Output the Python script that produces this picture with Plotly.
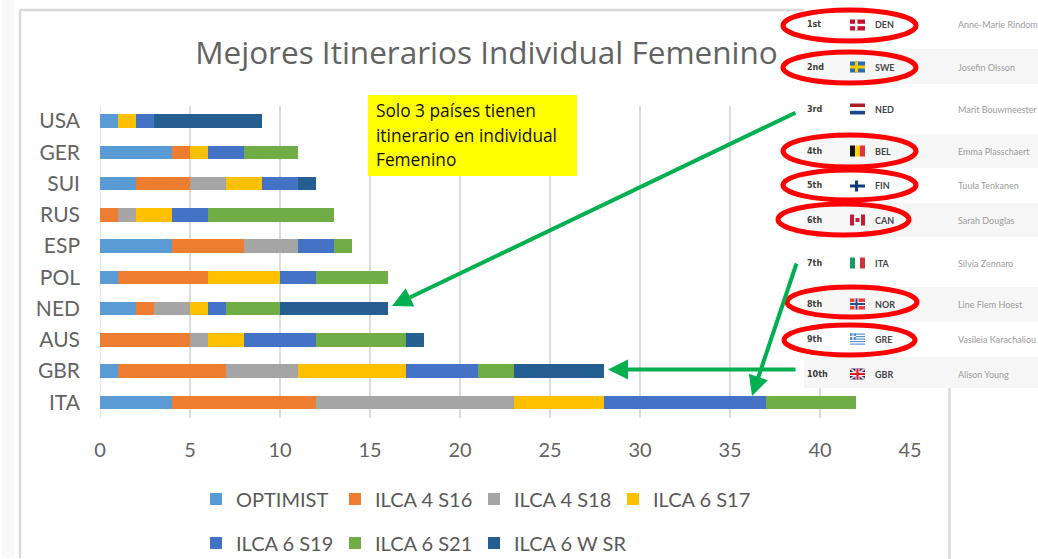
import plotly.graph_objects as go

# ---- data ----
countries = ["USA", "GER", "SUI", "RUS", "ESP", "POL", "NED", "AUS", "GBR", "ITA"]
optimist  = [1, 4, 2, 0, 4, 1, 2, 0, 1, 4]
ilca4_s16 = [0, 1, 3, 1, 4, 5, 1, 5, 6, 8]
ilca4_s18 = [0, 0, 2, 1, 3, 0, 2, 1, 4, 11]
ilca6_s17 = [1, 1, 2, 2, 0, 4, 1, 2, 6, 5]
ilca6_s19 = [1, 2, 2, 2, 2, 2, 1, 4, 4, 9]
ilca6_s21 = [0, 3, 0, 7, 1, 4, 3, 5, 2, 5]
ilca6_wsr = [6, 0, 1, 0, 0, 0, 6, 1, 5, 0]
x_ticks = [0, 5, 10, 15, 20, 25, 30, 35, 40, 45]

ranks = ["1st", "2nd", "3rd", "4th", "5th", "6th", "7th", "8th", "9th", "10th"]
codes = ["DEN", "SWE", "NED", "BEL", "FIN", "CAN", "ITA", "NOR", "GRE", "GBR"]
names = ["Anne-Marie Rindom", "Josefin Olsson", "Marit Bouwmeester", "Emma Plasschaert",
         "Tuula Tenkanen", "Sarah Douglas", "Silvia Zennaro", "Line Flem Hoest",
         "Vasileia Karachaliou", "Alison Young"]

W, H = 1038, 559
def px(x): return x / W
def py(y): return 1 - y / H

fig = go.Figure()
series = [
    ("OPTIMIST", optimist, "#5b9bd5", "legend"),
    ("ILCA 4 S16", ilca4_s16, "#ed7d31", "legend"),
    ("ILCA 4 S18", ilca4_s18, "#a5a5a5", "legend"),
    ("ILCA 6 S17", ilca6_s17, "#ffc000", "legend"),
    ("ILCA 6 S19", ilca6_s19, "#4472c4", "legend2"),
    ("ILCA 6 S21", ilca6_s21, "#70ad47", "legend2"),
    ("ILCA 6 W SR", ilca6_wsr, "#255e91", "legend3"),
]
for name, vals, col, leg in series:
    fig.add_trace(go.Bar(y=countries, x=vals, name=name, orientation="h",
                         marker=dict(color=col, line=dict(width=0)), legend=leg))

shapes = []
def rect(x0, y0, x1, y1, color):
    shapes.append(dict(type="rect", xref="paper", yref="paper", x0=px(x0), x1=px(x1),
                       y0=py(y0), y1=py(y1), fillcolor=color, line=dict(width=0), layer="above"))
def line(x0, y0, x1, y1, color, w):
    shapes.append(dict(type="line", xref="paper", yref="paper", x0=px(x0), x1=px(x1),
                       y0=py(y0), y1=py(y1), line=dict(color=color, width=w), layer="above"))
def ellipse(x0, y0, x1, y1):
    shapes.append(dict(type="circle", xref="paper", yref="paper", x0=px(x0), x1=px(x1),
                       y0=py(y0), y1=py(y1), fillcolor="rgba(0,0,0,0)",
                       line=dict(color="#ff0000", width=5), layer="above"))

# frame of the pasted screenshot
rect(2, 0, 14, 558, "#f9f9f9")
line(20, 10, 804, 10, "#d9d9d9", 2.5)
line(20, 10, 20, 558, "#d9d9d9", 2.5)
line(949.5, 388, 949.5, 559, "#d9d9d9", 2.5)

# pasted results table
rows_y = [25, 67, 109, 151, 186, 220, 263, 304, 339, 374]
rect(804, 0, W, 388, "#ffffff")
for a, b in [(49, 84), (134, 168), (203, 237), (287, 322), (357, 388)]:
    rect(804, a, W, b, "#f6f6f6")

def flag(code, yc):
    x0, x1, y0, y1 = 850, 865, yc - 5.5, yc + 5.5
    xm, ym = (x0 + x1) / 2, yc
    if code == "DEN":
        rect(x0, y0, x1, y1, "#c8102e"); rect(x0 + 5, y0, x0 + 7.5, y1, "#fff"); rect(x0, ym - 1.2, x1, ym + 1.2, "#fff")
    elif code == "SWE":
        rect(x0, y0, x1, y1, "#2a6ebb"); rect(x0 + 5, y0, x0 + 8, y1, "#fecc00"); rect(x0, ym - 1.5, x1, ym + 1.5, "#fecc00")
    elif code == "NED":
        rect(x0, y0, x1, y0 + 3.7, "#ae1c28"); rect(x0, y0 + 3.7, x1, y0 + 7.3, "#fff"); rect(x0, y0 + 7.3, x1, y1, "#21468b")
    elif code == "BEL":
        rect(x0, y0, x0 + 5, y1, "#111"); rect(x0 + 5, y0, x0 + 10, y1, "#fcd116"); rect(x0 + 10, y0, x1, y1, "#e8303f")
    elif code == "FIN":
        rect(x0, y0, x1, y1, "#fff"); rect(x0 + 5, y0, x0 + 8, y1, "#103a7c"); rect(x0, ym - 1.5, x1, ym + 1.5, "#103a7c")
    elif code == "CAN":
        rect(x0, y0, x0 + 4, y1, "#c8183c"); rect(x0 + 11, y0, x1, y1, "#c8183c"); rect(xm - 2, ym - 2, xm + 2, ym + 2, "#c8183c")
    elif code == "ITA":
        rect(x0, y0, x0 + 5, y1, "#169b62"); rect(x0 + 10, y0, x1, y1, "#d0343f")
    elif code == "NOR":
        rect(x0, y0, x1, y1, "#ef3b3f"); rect(x0 + 4.5, y0, x0 + 8.5, y1, "#fff"); rect(x0, ym - 2, x1, ym + 2, "#fff")
        rect(x0 + 5.5, y0, x0 + 7.5, y1, "#2b4a8b"); rect(x0, ym - 1, x1, ym + 1, "#2b4a8b")
    elif code == "GRE":
        rect(x0, y0, x1, y1, "#fff")
        for k in range(0, 5):
            rect(x0, y0 + k * 2.5, x1, y0 + k * 2.5 + 1.2, "#5b94d6")
        rect(x0, y0, x0 + 6, y0 + 6, "#4d8bd2"); rect(x0 + 2.4, y0, x0 + 3.6, y0 + 6, "#fff"); rect(x0, y0 + 2.4, x0 + 6, y0 + 3.6, "#fff")
    elif code == "GBR":
        rect(x0, y0, x1, y1, "#1f2f6e")
        line(x0, y0, x1, y1, "#f3c6c8", 2); line(x0, y1, x1, y0, "#f3c6c8", 2)
        rect(xm - 2, y0, xm + 2, y1, "#fff"); rect(x0, ym - 2, x1, ym + 2, "#fff")
        rect(xm - 1.1, y0, xm + 1.1, y1, "#d5202f"); rect(x0, ym - 1.1, x1, ym + 1.1, "#d5202f")

for c, y in zip(codes, rows_y):
    flag(c, y)

# red ellipses
for e in [(783, 10, 916, 41), (783, 52, 916, 83), (783, 135, 916, 167), (783, 170, 916, 200),
          (778, 204, 909, 235), (787, 287, 917, 317), (784, 325, 915, 355)]:
    ellipse(*e)

# note box
rect(368, 95, 577, 176, "#ffff00")

annotations = []
def text(x, y, s, size, color, family, xanchor="left", bold=False):
    annotations.append(dict(xref="paper", yref="paper", x=px(x), y=py(y), text=f"<b>{s}</b>" if bold else s,
                            showarrow=False, xanchor=xanchor, yanchor="middle", align="left",
                            font=dict(size=size, color=color, family=family)))
for r, c, n, y in zip(ranks, codes, names, rows_y):
    text(805, y, r, 8, "#3c3c3c", "DejaVu Sans", bold=True)
    text(873, y, c, 9, "#444444", "Lato", bold=True)
    text(955.5, y, n, 9, "#9c9c9c", "Lato")

for s, y in [("Solo 3 países tienen", 111), ("itinerario en individual", 135), ("Femenino", 159)]:
    text(374, y, s, 17.3, "#111111", "Open Sans")

GREEN = "#00b050"
def arrow(x0, y0, x1, y1):
    annotations.append(dict(xref="paper", yref="paper", x=px(x1), y=py(y1), axref="pixel", ayref="pixel",
                            ax=x0 - x1, ay=y0 - y1, text="", showarrow=True, arrowhead=2, arrowsize=1.0,
                            arrowwidth=4, arrowcolor=GREEN, standoff=0, startstandoff=0))
arrow(797, 112, 392, 306)
arrow(797, 369.5, 608, 369.5)
arrow(797, 262, 752, 396)

legend_common = dict(orientation="h", xanchor="left", yanchor="middle", bgcolor="rgba(0,0,0,0)",
                     borderwidth=0, traceorder="normal",
                     font=dict(size=20, color="#595959", family="Lato"), itemclick=False, itemdoubleclick=False)

fig.update_layout(
    width=W, height=H, margin=dict(l=0, r=0, t=0, b=0, autoexpand=False),
    paper_bgcolor="#ffffff", plot_bgcolor="#ffffff",
    barmode="stack", bargap=0.57, showlegend=True,
    title=dict(text="Mejores Itinerarios Individual Femenino", x=px(486.5), xref="paper", xanchor="center",
               y=py(53), yref="paper", yanchor="middle",
               font=dict(size=31.5, color="#636363", family="Open Sans")),
    xaxis=dict(domain=[px(100), px(910)], range=[0, 45], tickvals=x_ticks, showgrid=True,
               gridcolor="#dcdcdc", gridwidth=1.6, zeroline=True, zerolinecolor="#e4e4e4", zerolinewidth=1,
               showline=False, ticks="", ticklabelstandoff=18,
               tickfont=dict(size=20, color="#636363", family="Lato")),
    yaxis=dict(domain=[py(418), py(105.5)], categoryorder="array", categoryarray=countries,
               autorange="reversed", showgrid=False, showline=False, ticks="", ticklabelstandoff=19,
               tickfont=dict(size=21, color="#636363", family="Lato")),
    legend=dict(x=px(196), y=py(499), entrywidth=94, entrywidthmode="pixels", **legend_common),
    legend2=dict(x=px(196), y=py(543), entrywidth=94, entrywidthmode="pixels", **legend_common),
    legend3=dict(x=px(474), y=py(543), **legend_common),
    shapes=shapes, annotations=annotations,
)
fig.write_html("out.html", config=dict(displayModeBar=False),
               post_script="document.body.style.margin='0';document.documentElement.style.overflow='hidden';")
